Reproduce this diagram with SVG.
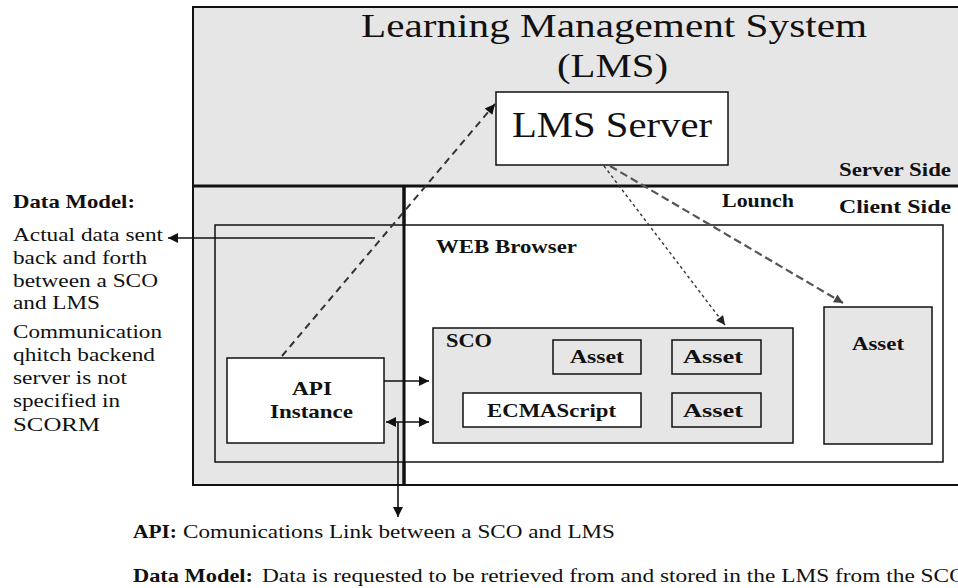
<svg xmlns="http://www.w3.org/2000/svg" width="958" height="588" viewBox="0 0 958 588">
<style>
  .t { font-family: "Liberation Serif", "Times New Roman", serif; fill: #111; }
  .b { font-weight: bold; }
  .box { stroke: #111; stroke-width: 1.5; }
  .gray { fill: #e6e6e6; }
  .white { fill: #ffffff; }
  .conn { stroke: #111; stroke-width: 1.6; fill: none; }
</style>
<defs>
  <marker id="ah" viewBox="0 0 10 10" refX="10" refY="5" markerWidth="13" markerHeight="10" markerUnits="userSpaceOnUse" orient="auto-start-reverse">
    <path d="M0,0 L10,5 L0,10 z" fill="#111"/>
  </marker>
  <marker id="ahs" viewBox="0 0 10 10" refX="10" refY="5" markerWidth="11" markerHeight="9" markerUnits="userSpaceOnUse" orient="auto">
    <path d="M0,0 L10,5 L0,10 z" fill="#222"/>
  </marker>
  <marker id="ahg" viewBox="0 0 10 10" refX="10" refY="5" markerWidth="12" markerHeight="9" markerUnits="userSpaceOnUse" orient="auto">
    <path d="M0,0 L10,5 L0,10 z" fill="#444"/>
  </marker>
</defs>
<rect x="0" y="0" width="958" height="588" fill="#ffffff"/>

<g id="lms">
  <rect x="193" y="7" width="780" height="179" class="gray"/>
  <rect x="193" y="186" width="211" height="299" class="gray"/>
  <rect x="193" y="7" width="780" height="478" fill="none" stroke="#111" stroke-width="2"/>
  <text class="t" x="361" y="37" font-size="33" textLength="506" lengthAdjust="spacingAndGlyphs">Learning Management System</text>
  <text class="t" x="557" y="77" font-size="33" textLength="111" lengthAdjust="spacingAndGlyphs">(LMS)</text>
  <line x1="193" y1="186" x2="958" y2="186" stroke="#111" stroke-width="3"/>
  <line x1="404" y1="186" x2="404" y2="485" stroke="#111" stroke-width="3"/>
</g>

<g id="server-side">
  <text class="t b" x="839" y="176" font-size="18" textLength="112" lengthAdjust="spacingAndGlyphs">Server Side</text>
</g>
<g id="client-side">
  <text class="t b" x="839" y="213" font-size="18" textLength="112" lengthAdjust="spacingAndGlyphs">Client Side</text>
</g>

<g id="lms-server">
  <rect x="496" y="92" width="232" height="73" class="box white"/>
  <text class="t" x="512" y="137" font-size="36" textLength="200" lengthAdjust="spacingAndGlyphs">LMS Server</text>
</g>

<g id="web-browser">
  <rect x="215" y="225" width="189" height="237" class="gray"/>
  <rect x="404" y="225" width="539" height="237" class="white"/>
  <rect x="215" y="225" width="728" height="237" fill="none" class="box"/>
  <line x1="404" y1="186" x2="404" y2="485" stroke="#111" stroke-width="3"/>
  <text class="t b" x="436" y="253" font-size="19" textLength="141" lengthAdjust="spacingAndGlyphs">WEB Browser</text>
</g>

<g id="sco">
  <rect x="433" y="328" width="360" height="115" class="box gray"/>
  <text class="t b" x="446" y="347" font-size="19" textLength="46" lengthAdjust="spacingAndGlyphs">SCO</text>
</g>

<g id="asset-1">
  <rect x="553" y="340" width="88" height="34" class="box gray"/>
  <text class="t b" x="570" y="363" font-size="19" textLength="54" lengthAdjust="spacingAndGlyphs">Asset</text>
</g>
<g id="asset-2">
  <rect x="672" y="340" width="89" height="34" class="box gray"/>
  <text class="t b" x="683" y="363" font-size="19" textLength="60" lengthAdjust="spacingAndGlyphs">Asset</text>
</g>
<g id="ecmascript">
  <rect x="463" y="393" width="178" height="34" class="box white"/>
  <text class="t b" x="487" y="417" font-size="19" textLength="129" lengthAdjust="spacingAndGlyphs">ECMAScript</text>
</g>
<g id="asset-3">
  <rect x="672" y="393" width="89" height="34" class="box gray"/>
  <text class="t b" x="683" y="417" font-size="19" textLength="60" lengthAdjust="spacingAndGlyphs">Asset</text>
</g>

<g id="asset-right">
  <rect x="824" y="307" width="108" height="137" class="box gray"/>
  <text class="t b" x="852" y="350" font-size="19" textLength="52" lengthAdjust="spacingAndGlyphs">Asset</text>
</g>

<g id="api-instance">
  <rect x="227" y="358" width="157" height="85" class="box white"/>
  <text class="t b" x="292" y="395" font-size="19" textLength="40" lengthAdjust="spacingAndGlyphs">API</text>
  <text class="t b" x="270" y="418" font-size="19" textLength="83" lengthAdjust="spacingAndGlyphs">Instance</text>
</g>

<g id="launch-label">
  <text class="t b" x="722" y="207" font-size="18" textLength="72" lengthAdjust="spacingAndGlyphs">Lounch</text>
</g>

<g id="connectors">
  <line x1="282" y1="356" x2="495" y2="104" stroke="#333" stroke-width="2" stroke-dasharray="7,5" marker-end="url(#ah)"/>
  <line x1="604" y1="166" x2="725" y2="325" stroke="#333" stroke-width="1.4" stroke-dasharray="3,3" marker-end="url(#ahs)"/>
  <line x1="610" y1="166" x2="843" y2="303" stroke="#555" stroke-width="2.2" stroke-dasharray="8,4" marker-end="url(#ahg)"/>
  <line x1="375" y1="238" x2="168" y2="238" class="conn" marker-end="url(#ah)"/>
  <line x1="384" y1="381" x2="429" y2="381" class="conn" marker-end="url(#ah)"/>
  <line x1="386" y1="422" x2="429" y2="422" class="conn" marker-start="url(#ah)" marker-end="url(#ah)"/>
  <line x1="398" y1="422" x2="398" y2="517" class="conn" marker-end="url(#ah)"/>
</g>

<g id="data-model-note">
  <text class="t b" x="13" y="208" font-size="19" textLength="122" lengthAdjust="spacingAndGlyphs">Data Model:</text>
  <text class="t" x="13" y="241" font-size="19" textLength="150" lengthAdjust="spacingAndGlyphs">Actual data sent</text>
  <text class="t" x="13" y="264" font-size="19" textLength="134" lengthAdjust="spacingAndGlyphs">back and forth</text>
  <text class="t" x="13" y="287" font-size="19" textLength="145" lengthAdjust="spacingAndGlyphs">between a SCO</text>
  <text class="t" x="13" y="309" font-size="19" textLength="87" lengthAdjust="spacingAndGlyphs">and LMS</text>
  <text class="t" x="13" y="338" font-size="19" textLength="149" lengthAdjust="spacingAndGlyphs">Communication</text>
  <text class="t" x="13" y="361" font-size="19" textLength="142" lengthAdjust="spacingAndGlyphs">qhitch backend</text>
  <text class="t" x="13" y="384" font-size="19" textLength="114" lengthAdjust="spacingAndGlyphs">server is not</text>
  <text class="t" x="13" y="407" font-size="19" textLength="107" lengthAdjust="spacingAndGlyphs">specified in</text>
  <text class="t" x="13" y="431" font-size="19" textLength="87" lengthAdjust="spacingAndGlyphs">SCORM</text>
</g>

<g id="api-note">
  <text class="t b" x="133" y="538" font-size="19" textLength="44" lengthAdjust="spacingAndGlyphs">API:</text>
  <text class="t" x="183" y="538" font-size="19" textLength="432" lengthAdjust="spacingAndGlyphs">Comunications Link between a SCO and LMS</text>
</g>
<g id="data-model-bottom-note">
  <text class="t b" x="133" y="582" font-size="19" textLength="120" lengthAdjust="spacingAndGlyphs">Data Model:</text>
  <text class="t" x="262" y="582" font-size="19" textLength="704" lengthAdjust="spacingAndGlyphs">Data is requested to be retrieved from and stored in the LMS from the SCO</text>
</g>
</svg>
